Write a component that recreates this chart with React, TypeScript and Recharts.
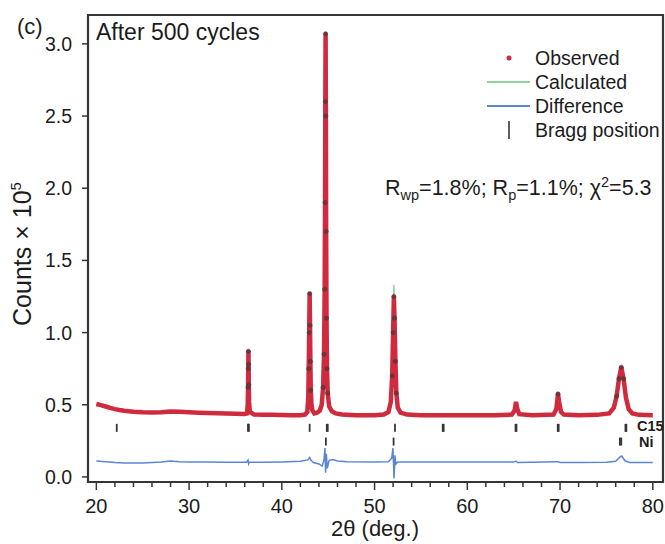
import React from "react";
import {
  ComposedChart,
  Line,
  Scatter,
  XAxis,
  YAxis,
  ReferenceArea,
  Legend,
} from "recharts";

type Pt = [number, number];

// observed intensity (counts x 1e5)
const observed: Pt[] = [
  [20.0, 0.505], [20.5, 0.498], [21.0, 0.488], [21.5, 0.478], [22.0, 0.47],
  [22.5, 0.464], [23.0, 0.459], [24.0, 0.452], [25.0, 0.448], [26.0, 0.447],
  [27.0, 0.449], [28.0, 0.454], [29.0, 0.451], [30.0, 0.448], [31.0, 0.445],
  [32.0, 0.443], [33.0, 0.441], [34.0, 0.439], [35.0, 0.437], [36.0, 0.436],
  [36.25, 0.44], [36.32, 0.5], [36.36, 0.62], [36.38, 0.75], [36.4, 0.87],
  [36.42, 0.78], [36.44, 0.64], [36.47, 0.52], [36.55, 0.45], [37.0, 0.433],
  [38.0, 0.431], [39.0, 0.43], [40.0, 0.429], [41.0, 0.428], [42.0, 0.428],
  [42.5, 0.432], [42.75, 0.45], [42.85, 0.55], [42.9, 0.75], [42.95, 1.0],
  [43.0, 1.27], [43.04, 1.05], [43.08, 0.8], [43.12, 0.6], [43.2, 0.5],
  [43.3, 0.46], [43.5, 0.44], [43.8, 0.445], [44.1, 0.46], [44.3, 0.5],
  [44.45, 0.62], [44.55, 0.85], [44.62, 1.3], [44.66, 1.9], [44.69, 2.6],
  [44.72, 3.07], [44.75, 2.5], [44.78, 1.7], [44.82, 1.1], [44.87, 0.75],
  [44.95, 0.58], [45.1, 0.49], [45.4, 0.455], [45.8, 0.44], [46.5, 0.432],
  [48.0, 0.428], [50.0, 0.428], [51.0, 0.432], [51.5, 0.45], [51.75, 0.52],
  [51.9, 0.7], [52.0, 1.0], [52.08, 1.25], [52.15, 1.1], [52.25, 0.8],
  [52.35, 0.58], [52.5, 0.48], [52.8, 0.445], [53.5, 0.432], [55.0, 0.428],
  [57.0, 0.428], [60.0, 0.427], [63.0, 0.428], [64.8, 0.432], [65.1, 0.46],
  [65.25, 0.52], [65.4, 0.47], [65.6, 0.435], [67.0, 0.428], [69.3, 0.432],
  [69.6, 0.47], [69.78, 0.575], [69.9, 0.52], [70.1, 0.45], [70.4, 0.432],
  [72.0, 0.428], [74.0, 0.43], [75.3, 0.44], [75.8, 0.48], [76.1, 0.56],
  [76.35, 0.68], [76.6, 0.76], [76.85, 0.68], [77.1, 0.55], [77.4, 0.47],
  [77.8, 0.44], [78.5, 0.43], [80.0, 0.428],
];

const calculated: Pt[] = [
  [20.0, 0.503], [21.0, 0.487], [22.0, 0.47], [23.0, 0.459], [24.0, 0.452],
  [26.0, 0.447], [28.0, 0.452], [30.0, 0.447], [33.0, 0.441], [36.0, 0.436],
  [36.25, 0.44], [36.32, 0.5], [36.36, 0.62], [36.38, 0.74], [36.4, 0.85],
  [36.42, 0.77], [36.44, 0.63], [36.47, 0.52], [36.55, 0.45], [37.0, 0.433],
  [40.0, 0.429], [42.0, 0.428], [42.5, 0.432], [42.75, 0.45], [42.85, 0.55],
  [42.9, 0.74], [42.95, 0.98], [43.0, 1.24], [43.04, 1.04], [43.08, 0.8],
  [43.12, 0.6], [43.2, 0.5], [43.3, 0.46], [43.5, 0.44], [43.8, 0.445],
  [44.1, 0.46], [44.3, 0.5], [44.45, 0.61], [44.55, 0.84], [44.62, 1.28],
  [44.66, 1.88], [44.69, 2.55], [44.72, 3.0], [44.75, 2.48], [44.78, 1.7],
  [44.82, 1.1], [44.87, 0.75], [44.95, 0.58], [45.1, 0.49], [45.4, 0.455],
  [45.8, 0.44], [46.5, 0.432], [50.0, 0.428], [51.0, 0.432], [51.5, 0.45],
  [51.75, 0.52], [51.9, 0.68], [52.0, 1.05], [52.08, 1.33], [52.15, 1.16],
  [52.25, 0.8], [52.35, 0.58], [52.5, 0.48], [52.8, 0.445], [53.5, 0.432],
  [60.0, 0.427], [64.8, 0.432], [65.1, 0.46], [65.25, 0.51], [65.4, 0.47],
  [65.6, 0.435], [67.0, 0.428], [69.3, 0.432], [69.6, 0.47], [69.78, 0.565],
  [69.9, 0.52], [70.1, 0.45], [70.4, 0.432], [74.0, 0.43], [75.3, 0.44],
  [75.8, 0.48], [76.1, 0.55], [76.35, 0.67], [76.6, 0.75], [76.85, 0.68],
  [77.1, 0.55], [77.4, 0.47], [77.8, 0.44], [78.5, 0.43], [80.0, 0.428],
];

// observed - calculated, shifted
const difference: Pt[] = [
  [20.0, 0.11], [21.0, 0.105], [22.0, 0.1], [23.0, 0.097], [24.0, 0.096],
  [25.0, 0.097], [26.0, 0.1], [27.0, 0.103], [28.0, 0.11], [29.0, 0.106],
  [30.0, 0.104], [32.0, 0.103], [34.0, 0.102], [36.2, 0.102], [36.35, 0.116],
  [36.42, 0.09], [36.5, 0.102], [38.0, 0.102], [40.0, 0.104], [42.0, 0.108],
  [42.8, 0.118], [43.0, 0.135], [43.15, 0.115], [43.4, 0.1], [44.0, 0.09],
  [44.35, 0.075], [44.55, 0.12], [44.65, 0.2], [44.72, 0.03], [44.8, 0.16],
  [44.9, 0.06], [45.1, 0.115], [45.5, 0.12], [46.0, 0.11], [47.0, 0.105],
  [50.0, 0.104], [51.5, 0.106], [51.85, 0.13], [51.98, 0.2], [52.1, -0.01],
  [52.2, 0.15], [52.3, 0.09], [52.5, 0.104], [55.0, 0.103], [60.0, 0.103],
  [65.0, 0.103], [65.25, 0.11], [65.4, 0.1], [69.8, 0.106], [70.0, 0.1],
  [72.0, 0.1], [75.0, 0.102], [76.0, 0.108], [76.5, 0.14], [76.65, 0.145],
  [77.0, 0.112], [77.5, 0.1], [80.0, 0.1],
];

// Bragg reflections
const braggC15 = [
  22.2, 36.35, 36.45, 43.0, 44.85, 44.95, 52.2, 57.35, 57.45, 65.2, 65.3,
  69.75, 69.85, 77.05, 77.15,
];
const braggNi = [44.75, 52.05, 76.45, 76.6];
const C15_LEVEL = 0.34;
const NI_LEVEL = 0.245;

const xTicks = [
  20, 22, 24, 26, 28, 30, 32, 34, 36, 38, 40, 42, 44, 46, 48, 50, 52, 54, 56,
  58, 60, 62, 64, 66, 68, 70, 72, 74, 76, 78, 80,
];
const yTicks = [0, 0.5, 1.0, 1.5, 2.0, 2.5, 3.0];

const RED = "#cf2a3e";
const GREEN = "#8fd49a";
const BLUE = "#5a86d8";
const INK = "#1c1c1c";
const AXIS = "#353535";
const FONT = '"Liberation Sans", Arial, Helvetica, sans-serif';

const rows = (pts: Pt[]) => pts.map(([x, y]) => ({ x, y }));
const obsData = rows(observed);
const calcData = rows(calculated);
const diffData = rows(difference);
const c15Data = braggC15.map((x) => ({ x, y: C15_LEVEL }));
const niData = braggNi.map((x) => ({ x, y: NI_LEVEL }));

const legendItems = [
  { label: "Observed", mark: "dot" },
  { label: "Calculated", mark: "line", color: GREEN },
  { label: "Difference", mark: "line", color: BLUE },
  { label: "Bragg position", mark: "bar" },
];

const renderLegend = () => (
  <div style={{ position: "relative", width: 185, height: 100, fontSize: 19.5, color: INK, fontFamily: FONT }}>
    {legendItems.map((it, i) => (
      <div
        key={it.label}
        style={{ position: "absolute", left: 0, top: i * 24, height: 24, display: "flex", alignItems: "center", whiteSpace: "nowrap" }}
      >
        <svg width={55} height={24} style={{ display: "block" }}>
          {it.mark === "dot" && <circle cx={29} cy={12} r={2.5} fill={RED} />}
          {it.mark === "line" && <line x1={7} x2={50} y1={12} y2={12} stroke={it.color} strokeWidth={2} />}
          {it.mark === "bar" && <line x1={29} x2={29} y1={3} y2={21} stroke={AXIS} strokeWidth={1.6} />}
        </svg>
        <span>{it.label}</span>
      </div>
    ))}
  </div>
);

const XTick = (props: any) => {
  const { x, y, payload } = props;
  const v = payload.value;
  const major = v % 10 === 0;
  return (
    <g>
      <line x1={x} x2={x} y1={y} y2={y + (major ? 8 : 5)} stroke={AXIS} strokeWidth={1.5} />
      {major && (
        <text x={x} y={y + 31} textAnchor="middle" fontSize={20} fill={INK} fontFamily={FONT}>
          {v}
        </text>
      )}
    </g>
  );
};

const ObsDot = (props: any) => {
  const { cx, cy, payload, index } = props;
  if (payload.y < 0.56) return <g key={index} />;
  return <circle key={index} cx={cx} cy={cy} r={2.1} fill="#7a3038" stroke="#4a3a3a" strokeWidth={0.6} />;
};

const BraggTick = (props: any) => {
  const { cx, cy } = props;
  return <line x1={cx} x2={cx} y1={cy - 4} y2={cy + 4} stroke={AXIS} strokeWidth={1.8} />;
};

const abs = (left: number, top: number, extra: React.CSSProperties = {}): React.CSSProperties => ({
  position: "absolute",
  left,
  top,
  lineHeight: 1,
  whiteSpace: "nowrap",
  color: INK,
  ...extra,
});

export default function App() {
  return (
    <div style={{ position: "absolute", left: 0, top: 0, width: 665, height: 544, background: "#fff", fontFamily: FONT }}>
      <ComposedChart width={665} height={544} margin={{ top: 15, right: 2, bottom: 0, left: 0 }}>
        <XAxis
          dataKey="x"
          type="number"
          domain={[19.1, 81.1]}
          allowDataOverflow
          ticks={xTicks}
          interval={0}
          height={62}
          tickSize={0}
          tickMargin={0}
          tickLine={false}
          axisLine={false}
          tick={<XTick />}
        />
        <YAxis
          type="number"
          domain={[-0.035, 3.2]}
          allowDataOverflow
          ticks={yTicks}
          interval={0}
          width={88}
          tickSize={6}
          tickMargin={10}
          tickLine={{ stroke: AXIS, strokeWidth: 1.5 }}
          axisLine={false}
          tickFormatter={(v: number) => v.toFixed(1)}
          tick={{ fontSize: 19.5, fill: INK, fontFamily: FONT }}
        />
        <ReferenceArea x1={19.1} x2={81.1} y1={-0.035} y2={3.2} fill="none" stroke={AXIS} strokeWidth={2.2} />
        <Line data={calcData} dataKey="y" stroke={GREEN} strokeWidth={1.5} dot={false} isAnimationActive={false} />
        <Line data={obsData} dataKey="y" stroke={RED} strokeWidth={4.5} dot={<ObsDot />} isAnimationActive={false} />
        <Line data={diffData} dataKey="y" stroke={BLUE} strokeWidth={1.5} dot={false} isAnimationActive={false} />
        <Scatter data={c15Data} dataKey="y" shape={<BraggTick />} isAnimationActive={false} />
        <Scatter data={niData} dataKey="y" shape={<BraggTick />} isAnimationActive={false} />
        <Legend
          layout="vertical"
          align="center"
          verticalAlign="middle"
          content={renderLegend}
          wrapperStyle={{ left: 480, top: 46, width: 185, height: 100 }}
        />
      </ComposedChart>

      <div style={abs(17, 16, { fontSize: 22 })}>(c)</div>
      <div style={abs(96, 21, { fontSize: 23 })}>After 500 cycles</div>
      <div style={abs(385, 178, { fontSize: 21.5 })}>
        R<span style={{ fontSize: 14.5, position: "relative", top: 5 }}>wp</span>=1.8%; R
        <span style={{ fontSize: 14.5, position: "relative", top: 5 }}>p</span>=1.1%; χ
        <span style={{ fontSize: 14.5, position: "relative", top: -8 }}>2</span>=5.3
      </div>
      <div style={abs(637, 419, { fontSize: 14.5, fontWeight: 700 })}>C15</div>
      <div style={abs(639, 435, { fontSize: 14.5, fontWeight: 700 })}>Ni</div>
      <div style={abs(375, 518, { fontSize: 22, transform: "translateX(-50%)" })}>2θ (deg.)</div>
      <div
        style={abs(22, 254, {
          fontSize: 25,
          transform: "translate(-50%, -50%) rotate(-90deg)",
        })}
      >
        Counts × 10<span style={{ fontSize: 15, position: "relative", top: -10 }}>5</span>
      </div>
    </div>
  );
}
